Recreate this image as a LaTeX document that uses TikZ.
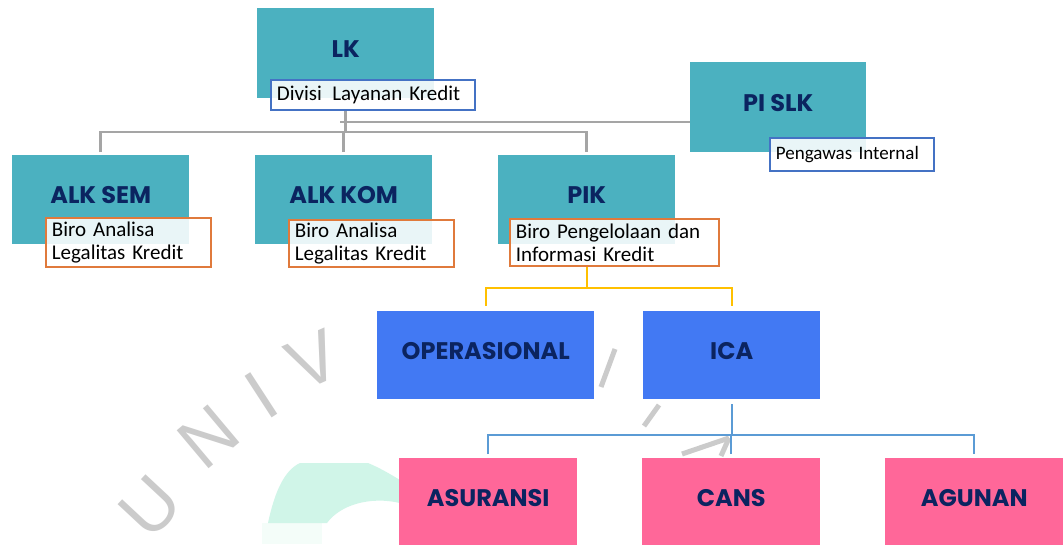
\documentclass[tikz,border=0pt]{standalone}
\usepackage{fontspec}
\setmainfont{Carlito}
\newfontfamily\lblfont{Poppins}
\newfontfamily\wmfont{Liberation Sans}
\definecolor{tealbox}{HTML}{4BB1C0}
\definecolor{bluebox}{HTML}{4279F3}
\definecolor{pinkbox}{HTML}{FF6799}
\definecolor{navy}{HTML}{0B2460}
\definecolor{greyline}{HTML}{A5A5A5}
\definecolor{yelline}{HTML}{FFC000}
\definecolor{blueline}{HTML}{5B9BD5}
\definecolor{subblue}{HTML}{4472C4}
\definecolor{suborange}{HTML}{E07A3C}
\definecolor{wmgrey}{HTML}{CBCBCB}
\definecolor{mint}{HTML}{D0F5E8}
\definecolor{mintpale}{HTML}{F4FDF9}
\begin{document}
\begin{tikzpicture}[x=1pt,y=-1pt,
  box/.style={rectangle, anchor=north west, inner sep=0pt, minimum width=177pt, minimum height=89pt,
    text depth=9pt, font=\lblfont\bfseries\fontsize{24}{24}\selectfont, text=navy},
  tealnode/.style={box, fill=tealbox},
  bluenode/.style={box, fill=bluebox},
  pinknode/.style={box, fill=pinkbox, minimum width=178pt, minimum height=88pt},
  subnode/.style={draw, line width=1.8pt, fill=white, fill opacity=0.88, text opacity=1,
    anchor=north west, inner xsep=6pt, inner ysep=0pt, align=left, text=black,
    font=\fontsize{21}{23}\selectfont},
  subb/.style={subnode, draw=subblue},
  subo/.style={subnode, draw=suborange},
  wm/.style={font=\wmfont\fontsize{72}{72}\selectfont, text=wmgrey, inner sep=0pt},
  wmline/.style={draw=wmgrey, line width=5pt},
  gline/.style={draw=greyline, line width=2.6pt},
  yline/.style={draw=yelline, line width=2.4pt},
  bline/.style={draw=blueline, line width=2.4pt}]
\clip (0,0) rectangle (1063,544);
\fill[white] (0,0) rectangle (1063,544);

% watermark
\fill[mintpale] (262,523) rectangle (322,544);
\fill[mint] (268,523) .. controls (275,490) and (285,470) .. (300,463) -- (368,463)
  .. controls (380,468) and (390,474) .. (400,480) -- (400,503)
  .. controls (370,496) and (340,505) .. (327,523) -- cycle;
\node[wm, rotate=47] (wU) at (150,507) {U};
\node[wm, rotate=40] (wN) at (208,437) {N};
\node[wm, rotate=33] (wI) at (261,395) {I};
\node[wm, rotate=24] (wV) at (313,360) {V};
\draw[wmline] (615,349) -- (601,387);
\draw[wmline] (659,405) -- (644,426);
\draw[wmline] (729,438) -- (682,454);
\draw[wmline] (729,438) -- (721,456);

% boxes
\node[tealnode, minimum height=90pt] (lk) at (257,8) {LK};
\node[tealnode, minimum width=176pt, minimum height=90pt] (pislk) at (690,62) {PI SLK};
\node[tealnode] (alksem) at (12,155) {ALK SEM};
\node[tealnode] (alkkom) at (255,155) {ALK KOM};
\node[tealnode] (pik) at (498,155) {PIK};
\node[bluenode, minimum width=217pt, minimum height=88pt] (oper) at (377,311) {OPERASIONAL};
\node[bluenode, minimum height=88pt] (ica) at (643,311) {ICA};
\node[pinknode] (asur) at (399,458) {ASURANSI};
\node[pinknode] (cans) at (642,458) {CANS};
\node[pinknode] (agun) at (885,458) {AGUNAN};

% sub labels
\node[subb, minimum width=204pt, minimum height=30pt, text width=192pt] (lksub) at (270,79) {Divisi\, Layanan Kredit};
\node[subb, minimum width=164pt, minimum height=33pt, text width=152pt, font=\fontsize{19}{21}\selectfont] (pislksub) at (769,137) {Pengawas Internal};
\node[subo, minimum width=165pt, minimum height=49pt, text width=153pt] (alksemsub) at (45,217) {Biro Analisa\\Legalitas Kredit};
\node[subo, minimum width=165pt, minimum height=47pt, text width=153pt] (alkkomsub) at (288,219) {Biro Analisa\\Legalitas Kredit};
\node[subo, minimum width=209pt, minimum height=47pt, text width=197pt] (piksub) at (509,218) {Biro Pengelolaan dan\\Informasi Kredit};

% connectors
\coordinate (bus) at (345,132);
\coordinate (pibus) at (340,122);
\coordinate (ybus) at (0,288);
\coordinate (bbus) at (0,435);
\draw[gline] (lk.south |- lksub.south) -- (lk.south |- bus);
\draw[gline] (pibus) -- (pislk.west |- pibus);
\draw[gline, shorten <=3pt, shorten >=3pt] (alksem.north) |- (lk.south |- bus) -| (pik.north);
\draw[gline, shorten <=3pt] (alkkom.north) -- (alkkom.north |- bus);
\draw[yline] (pik.south |- piksub.south) -- (pik.south |- ybus);
\draw[yline, shorten <=5pt, shorten >=5pt] (oper.north) |- (pik.south |- ybus) -| (ica.north);
\draw[bline, shorten <=5pt] (ica.south) -- (ica.south |- bbus);
\draw[bline, shorten <=4pt, shorten >=4pt] (asur.north) |- (ica.south |- bbus) -| (agun.north);
\draw[bline, shorten <=4pt] (cans.north) -- (cans.north |- bbus);
\end{tikzpicture}
\end{document}
